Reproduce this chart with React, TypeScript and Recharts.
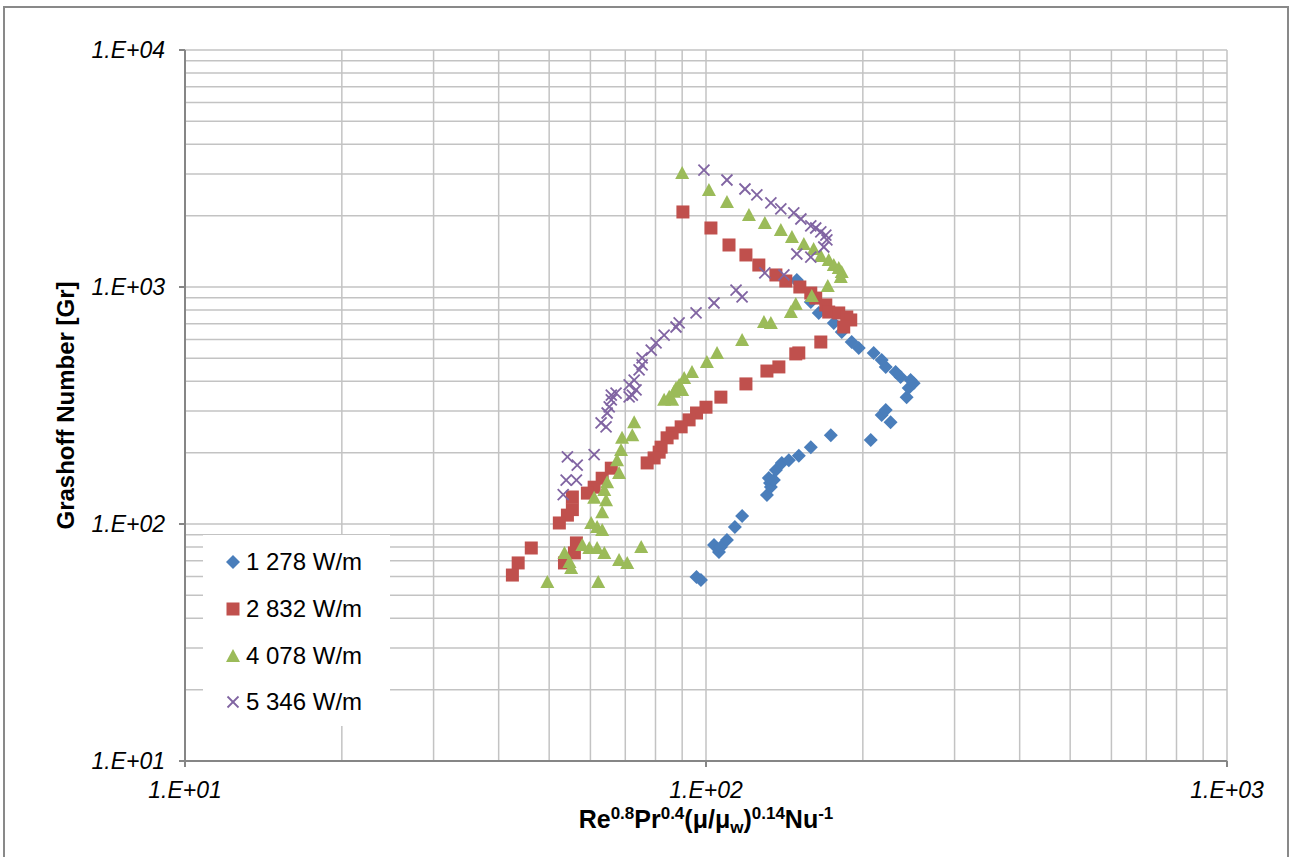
import { ScatterChart, Scatter, XAxis, YAxis, CartesianGrid, Legend, Label } from 'recharts';

// x = Re^0.8 Pr^0.4 (mu/mu_w)^0.14 / Nu, y = Grashoff number
const s1278 = [
  { x: 95.9, y: 59.8 }, { x: 97.8, y: 58.0 }, { x: 103.6, y: 81.5 }, { x: 105.9, y: 76.2 },
  { x: 106.8, y: 80.0 }, { x: 109.7, y: 85.6 }, { x: 113.6, y: 97.1 }, { x: 117.3, y: 108 },
  { x: 130.9, y: 132.6 }, { x: 132.7, y: 148.9 }, { x: 133.2, y: 143.3 }, { x: 135.0, y: 153.4 },
  { x: 132.0, y: 156.4 }, { x: 136.2, y: 169 }, { x: 139.8, y: 181 }, { x: 144.2, y: 186 },
  { x: 150.7, y: 194 }, { x: 158.9, y: 211 }, { x: 173.6, y: 237 }, { x: 207.1, y: 226 },
  { x: 226.1, y: 269 }, { x: 217.4, y: 288 }, { x: 221.3, y: 303 }, { x: 242.7, y: 343 },
  { x: 244.9, y: 375 }, { x: 250.3, y: 393 }, { x: 247.0, y: 405 }, { x: 236.3, y: 417 },
  { x: 231.2, y: 438 }, { x: 221.3, y: 460 }, { x: 217.4, y: 492 }, { x: 209.8, y: 527 },
  { x: 196.4, y: 553 }, { x: 190.4, y: 586 }, { x: 182.2, y: 646 }, { x: 175.9, y: 705 },
  { x: 164.6, y: 777 }, { x: 158.9, y: 865 }, { x: 150.7, y: 1040 }, { x: 149.4, y: 1070 },
];

const s2832 = [
  { x: 90.3, y: 2073 }, { x: 102.2, y: 1774 }, { x: 110.7, y: 1504 }, { x: 119.3, y: 1365 },
  { x: 126.3, y: 1238 }, { x: 136.2, y: 1124 }, { x: 142.3, y: 1060 }, { x: 151.4, y: 1000 },
  { x: 158.9, y: 943 }, { x: 162.4, y: 898 }, { x: 169.8, y: 840 }, { x: 172.0, y: 784 },
  { x: 179.8, y: 777 }, { x: 186.3, y: 747 }, { x: 189.6, y: 726 }, { x: 183.8, y: 678 },
  { x: 166.1, y: 586 }, { x: 150.7, y: 527 }, { x: 148.7, y: 522 }, { x: 138.0, y: 460 },
  { x: 130.9, y: 442 }, { x: 119.3, y: 390 }, { x: 106.8, y: 343 }, { x: 100.0, y: 311 },
  { x: 95.9, y: 294 }, { x: 92.8, y: 275 }, { x: 89.6, y: 257 }, { x: 86.1, y: 242 },
  { x: 84.2, y: 231 }, { x: 82.0, y: 211 }, { x: 81.3, y: 201 }, { x: 79.5, y: 190 },
  { x: 77.1, y: 181 }, { x: 65.8, y: 172 }, { x: 63.2, y: 156 }, { x: 61.0, y: 143 },
  { x: 59.2, y: 135 }, { x: 55.4, y: 130 }, { x: 55.4, y: 115 }, { x: 54.2, y: 109 },
  { x: 52.3, y: 101 }, { x: 56.4, y: 83.2 }, { x: 55.9, y: 75.5 }, { x: 53.5, y: 68.5 },
  { x: 46.2, y: 79.2 }, { x: 43.6, y: 68.5 }, { x: 42.5, y: 60.9 },
];

const s4078 = [
  { x: 90.0, y: 3027 }, { x: 101.3, y: 2566 }, { x: 109.7, y: 2283 }, { x: 120.9, y: 2013 },
  { x: 129.7, y: 1862 }, { x: 139.2, y: 1740 }, { x: 146.2, y: 1625 }, { x: 154.1, y: 1519 },
  { x: 160.9, y: 1446 }, { x: 166.1, y: 1351 }, { x: 172.0, y: 1300 }, { x: 175.9, y: 1238 },
  { x: 179.8, y: 1203 }, { x: 182.2, y: 1157 }, { x: 181.4, y: 1102 }, { x: 171.3, y: 1010 },
  { x: 159.6, y: 916 }, { x: 148.7, y: 848 }, { x: 145.5, y: 784 }, { x: 133.2, y: 705 },
  { x: 129.2, y: 712 }, { x: 117.3, y: 598 }, { x: 105.0, y: 527 }, { x: 100.4, y: 483 },
  { x: 94.0, y: 438 }, { x: 90.8, y: 413 }, { x: 88.8, y: 386 }, { x: 86.8, y: 361 },
  { x: 90.0, y: 368 }, { x: 87.6, y: 375 }, { x: 85.0, y: 344 }, { x: 86.1, y: 334 },
  { x: 83.1, y: 334 }, { x: 72.8, y: 269 }, { x: 72.2, y: 237 }, { x: 69.0, y: 231 },
  { x: 68.7, y: 205 }, { x: 67.5, y: 186 }, { x: 68.1, y: 164 }, { x: 64.6, y: 150 },
  { x: 63.8, y: 139 }, { x: 61.0, y: 129 }, { x: 64.3, y: 126 }, { x: 63.2, y: 112 },
  { x: 60.2, y: 101 }, { x: 61.8, y: 97.1 }, { x: 63.2, y: 94.3 }, { x: 57.9, y: 81.5 },
  { x: 59.7, y: 79.2 }, { x: 61.8, y: 79.2 }, { x: 63.8, y: 75.5 }, { x: 53.5, y: 75.5 },
  { x: 54.7, y: 69.2 }, { x: 55.1, y: 65.2 }, { x: 68.1, y: 70.5 }, { x: 70.6, y: 68.5 },
  { x: 75.1, y: 80.0 }, { x: 49.6, y: 56.9 }, { x: 62.1, y: 56.9 },
];

const s5346 = [
  { x: 99.1, y: 3116 }, { x: 109.7, y: 2828 }, { x: 118.8, y: 2591 }, { x: 125.2, y: 2445 },
  { x: 133.2, y: 2262 }, { x: 139.2, y: 2134 }, { x: 147.4, y: 2053 }, { x: 152.1, y: 1936 },
  { x: 158.9, y: 1809 }, { x: 162.4, y: 1774 }, { x: 166.1, y: 1707 }, { x: 169.8, y: 1657 },
  { x: 170.6, y: 1579 }, { x: 168.3, y: 1475 }, { x: 149.4, y: 1378 }, { x: 158.9, y: 1338 },
  { x: 141.1, y: 1124 }, { x: 129.7, y: 1146 }, { x: 117.3, y: 908 }, { x: 114.2, y: 971 },
  { x: 103.6, y: 856 }, { x: 95.7, y: 777 }, { x: 88.8, y: 705 }, { x: 87.6, y: 678 },
  { x: 83.1, y: 627 }, { x: 80.2, y: 581 }, { x: 78.5, y: 542 }, { x: 75.4, y: 502 },
  { x: 75.4, y: 469 }, { x: 74.4, y: 447 }, { x: 72.8, y: 405 }, { x: 71.2, y: 386 },
  { x: 73.4, y: 368 }, { x: 67.2, y: 357 }, { x: 65.8, y: 350 }, { x: 71.2, y: 344 },
  { x: 72.2, y: 350 }, { x: 65.8, y: 334 }, { x: 65.2, y: 312 }, { x: 64.6, y: 294 },
  { x: 62.9, y: 267 }, { x: 64.3, y: 257 }, { x: 61.0, y: 196 }, { x: 54.2, y: 192 },
  { x: 56.6, y: 177 }, { x: 53.9, y: 153 }, { x: 56.4, y: 153 }, { x: 53.2, y: 133 },
];

const xTicks = [10, 20, 30, 40, 50, 60, 70, 80, 90, 100, 200, 300, 400, 500, 600, 700, 800, 900, 1000];
const yTicks = [
  10, 20, 30, 40, 50, 60, 70, 80, 90, 100, 200, 300, 400, 500, 600, 700, 800, 900,
  1000, 2000, 3000, 4000, 5000, 6000, 7000, 8000, 9000, 10000,
];
const majorTicks = [10, 100, 1000, 10000];

const FONT = '"Liberation Sans", Arial, sans-serif';
const AXIS = '#868686';
const GRID = '#c3c3c3';
const TICK_SIZE = 6;
const X_MARGIN = 15;
const Y_MARGIN = 14;

const fmtExp = (v: number) => `1.E+${String(Math.round(Math.log10(v))).padStart(2, '0')}`;

const Diamond = ({ cx, cy, fill }: any) => (
  <path d={`M${cx},${cy - 7}L${cx + 7},${cy}L${cx},${cy + 7}L${cx - 7},${cy}Z`} fill={fill} />
);
const Square = ({ cx, cy, fill }: any) => (
  <rect x={cx - 6.5} y={cy - 6.5} width={13} height={13} fill={fill} />
);
const Triangle = ({ cx, cy, fill }: any) => (
  <path d={`M${cx},${cy - 7}L${cx + 7},${cy + 6}L${cx - 7},${cy + 6}Z`} fill={fill} />
);
const Cross = ({ cx, cy, fill }: any) => (
  <g stroke={fill} strokeWidth={1.8}>
    <line x1={cx - 5.5} y1={cy - 5.5} x2={cx + 5.5} y2={cy + 5.5} />
    <line x1={cx - 5.5} y1={cy + 5.5} x2={cx + 5.5} y2={cy - 5.5} />
  </g>
);

const series = [
  { name: '1 278 W/m', data: s1278, color: '#4a7ebb', Shape: Diamond },
  { name: '2 832 W/m', data: s2832, color: '#c0504d', Shape: Square },
  { name: '4 078 W/m', data: s4078, color: '#9bbb59', Shape: Triangle },
  { name: '5 346 W/m', data: s5346, color: '#8064a2', Shape: Cross },
];

const XTick = ({ x, y, payload }: any) => {
  if (!majorTicks.includes(payload.value)) return <g />;
  return (
    <g>
      <line x1={x} x2={x} y1={y - X_MARGIN - TICK_SIZE} y2={y - X_MARGIN} stroke={AXIS} strokeWidth={2} />
      <text x={x} y={y} dy="0.71em" textAnchor="middle" fontSize={23} fontStyle="italic" fontFamily={FONT} fill="#000">
        {fmtExp(payload.value)}
      </text>
    </g>
  );
};

const YTick = ({ x, y, payload }: any) => {
  if (!majorTicks.includes(payload.value)) return <g />;
  return (
    <g>
      <line x1={x + Y_MARGIN} x2={x + Y_MARGIN + TICK_SIZE} y1={y} y2={y} stroke={AXIS} strokeWidth={2} />
      <text x={x} y={y} dy="0.355em" textAnchor="end" fontSize={23} fontStyle="italic" fontFamily={FONT} fill="#000">
        {fmtExp(payload.value)}
      </text>
    </g>
  );
};

const XTitle = ({ viewBox }: any) => {
  const cx = viewBox.x + viewBox.width / 2;
  return (
    <text x={cx} y={828} textAnchor="middle" fontFamily={FONT} fontWeight="bold" fontSize={25} fill="#000">
      <tspan>Re</tspan>
      <tspan fontSize={17} dy={-9}>0.8</tspan>
      <tspan dy={9}>Pr</tspan>
      <tspan fontSize={17} dy={-9}>0.4</tspan>
      <tspan dy={9}>(μ/μ</tspan>
      <tspan fontSize={17} dy={5}>w</tspan>
      <tspan dy={-5}>)</tspan>
      <tspan fontSize={17} dy={-9}>0.14</tspan>
      <tspan dy={9}>Nu</tspan>
      <tspan fontSize={17} dy={-9}>-1</tspan>
    </text>
  );
};

const YTitle = ({ viewBox }: any) => {
  const cy = viewBox.y + viewBox.height / 2;
  return (
    <text
      x={74}
      y={cy}
      transform={`rotate(-90, 74, ${cy})`}
      textAnchor="middle"
      fontFamily={FONT}
      fontWeight="bold"
      fontSize={24}
      fill="#000"
    >
      Grashoff Number [Gr]
    </text>
  );
};

const LegendBox = () => (
  <div style={{ background: '#fff', width: '100%', height: '100%', paddingTop: 4, boxSizing: 'border-box', fontFamily: FONT }}>
    {series.map((s) => (
      <div key={s.name} style={{ display: 'flex', alignItems: 'center', height: 46.7, paddingLeft: 22 }}>
        <svg width={16} height={16} style={{ marginRight: 5 }}>
          <s.Shape cx={8} cy={8} fill={s.color} />
        </svg>
        <span style={{ fontSize: 24, color: '#000' }}>{s.name}</span>
      </div>
    ))}
  </div>
);

export default function App() {
  return (
    <div style={{ position: 'absolute', left: 0, top: 0, width: 1289, height: 857, background: '#fff', overflow: 'hidden' }}>
      <div style={{ position: 'absolute', left: 3, top: 6, width: 1282, height: 870, border: '2px solid #898989' }} />
      <ScatterChart width={1289} height={857} margin={{ top: 50, right: 62, bottom: 0, left: 0 }}>
        <CartesianGrid stroke={GRID} strokeWidth={1.5} />
        <XAxis
          type="number"
          dataKey="x"
          scale="log"
          domain={[10, 1000]}
          ticks={xTicks}
          interval={0}
          allowDataOverflow
          height={96}
          tickSize={TICK_SIZE}
          tickMargin={X_MARGIN}
          tickLine={false}
          axisLine={{ stroke: AXIS, strokeWidth: 2 }}
          tick={<XTick />}
        >
          <Label content={<XTitle />} />
        </XAxis>
        <YAxis
          type="number"
          dataKey="y"
          scale="log"
          domain={[10, 10000]}
          ticks={yTicks}
          interval={0}
          allowDataOverflow
          width={185}
          tickSize={TICK_SIZE}
          tickMargin={Y_MARGIN}
          tickLine={false}
          axisLine={{ stroke: AXIS, strokeWidth: 2 }}
          tick={<YTick />}
        >
          <Label content={<YTitle />} />
        </YAxis>
        <Legend
          layout="vertical"
          align="center"
          verticalAlign="middle"
          wrapperStyle={{ left: 203, top: 535, width: 187, height: 191 }}
          content={<LegendBox />}
        />
        {series.map((s) => (
          <Scatter
            key={s.name}
            name={s.name}
            data={s.data}
            fill={s.color}
            isAnimationActive={false}
            shape={(p: any) => <s.Shape cx={p.cx} cy={p.cy} fill={s.color} />}
          />
        ))}
      </ScatterChart>
    </div>
  );
}
